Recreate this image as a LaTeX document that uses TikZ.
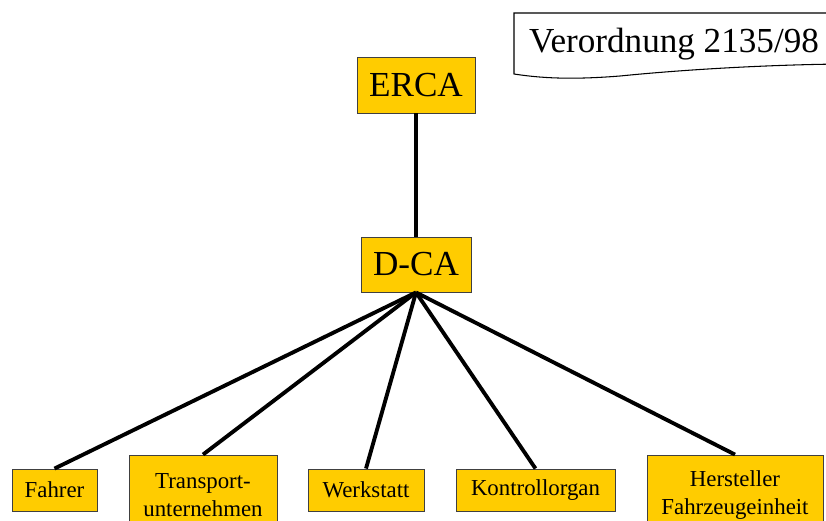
\documentclass[tikz,border=0pt]{standalone}
\usepackage{fontspec}
\setmainfont{Liberation Serif}
\usetikzlibrary{calc, positioning}
\definecolor{caGold}{HTML}{FFCC00}

\begin{document}
\begin{tikzpicture}[x=0.02cm, y=-0.02cm]
 \tikzset{node style ca/.style={draw=black!75, line width=0.5pt, fill=caGold,
        inner sep=0pt, align=center, font=\fontsize{20}{24}\selectfont}}
 \tikzset{node style user/.style={node style ca, font=\fontsize{13}{16}\selectfont,
        minimum height=0.84cm}}
 \tikzset{link/.style={line width=2.2pt}}
 \clip (0,0) rectangle (826,521);

 % note with wavy lower edge
 \draw[fill=white, line width=0.6pt] (514,13) -- (840,13) -- (840,64)
    .. controls (760,65) and (680,70) .. (620,76)
    .. controls (570,80) and (540,78) .. (514,74) -- cycle;
 \node (V) at (674,44) [font=\fontsize{20}{24}\selectfont] {Verordnung 2135/98};

 \node (E) [node style ca, minimum width=2.36cm, minimum height=1.12cm] at (416,85) {ERCA};
 \node (D) [node style ca, minimum width=2.2cm, minimum height=1.1cm] at (416,264.5) {D-CA};

 \node (F) [node style user, minimum width=1.7cm] at (54.5,490) {Fahrer};
 \node (T) [node style user, minimum width=2.96cm, minimum height=1.6cm] at (203,495)
    {Transport-\\unternehmen};
 \node (W) [node style user, minimum width=2.32cm] at (366,490) {Werkstatt};
 \node (K) [node style user, minimum width=3.18cm] at (535.5,490) {Kontrollorgan};
 \node (H) [node style user, minimum width=3.52cm, minimum height=1.6cm] at (735,495)
    {Hersteller\\Fahrzeugeinheit};

 \draw[link] (E) -- (D);
 \foreach \u in {F,T,W,K,H}
    \draw[link] (D.south) -- (\u.north);
\end{tikzpicture}
\end{document}
